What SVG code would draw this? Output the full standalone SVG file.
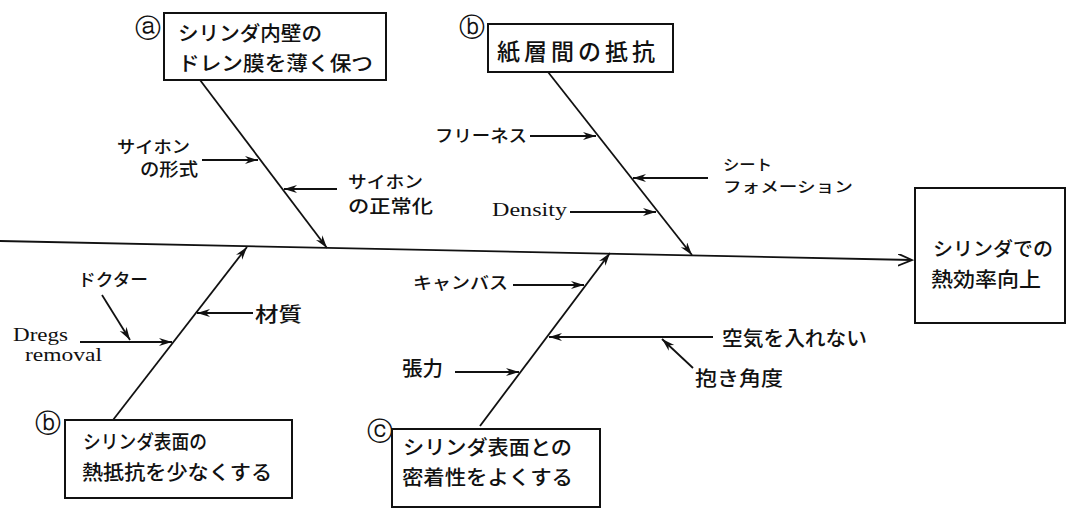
<svg xmlns="http://www.w3.org/2000/svg" width="1067" height="508" viewBox="0 0 1067 508">
<style>
.jp{font-family:"Noto Sans CJK JP","Noto Sans CJK SC",sans-serif;fill:#111;font-weight:500}
.en{font-family:"Liberation Serif",serif;fill:#111}
.circ{font-family:"DejaVu Sans",sans-serif;fill:#111;text-anchor:middle;font-size:26px}
.box{fill:#fff;stroke:#111;stroke-width:2}
.ln{stroke:#111;stroke-width:1.8;fill:none}
.ar{marker-end:url(#ah)}
</style>
<defs>
<marker id="ah" markerUnits="userSpaceOnUse" markerWidth="14" markerHeight="10" refX="13" refY="4" orient="auto">
<path d="M0,0 L13,4 L0,8 L4,4 z" fill="#111"/>
</marker>
<marker id="open" markerUnits="userSpaceOnUse" markerWidth="16" markerHeight="14" refX="14" refY="6" orient="auto">
<path d="M0,0 L14,6 L0,12" fill="none" stroke="#111" stroke-width="1.8"/>
</marker>
</defs>
<rect width="1067" height="508" fill="#fff"/>
<g id="connectors">
<line class="ln" x1="0" y1="241" x2="912" y2="260" marker-end="url(#open)"/>
<line class="ln ar" x1="200" y1="80" x2="327" y2="248"/>
<line class="ln ar" x1="548" y1="72" x2="692" y2="255"/>
<line class="ln ar" x1="113" y1="420" x2="247" y2="247"/>
<line class="ln ar" x1="480" y1="426" x2="610" y2="253"/>
<line class="ln ar" x1="202" y1="160" x2="258" y2="160"/>
<line class="ln ar" x1="337" y1="189" x2="284" y2="189"/>
<line class="ln ar" x1="530" y1="136" x2="596" y2="136"/>
<line class="ln ar" x1="708" y1="178" x2="633" y2="178"/>
<line class="ln ar" x1="570" y1="212" x2="656" y2="212"/>
<line class="ln ar" x1="253" y1="313" x2="197" y2="313"/>
<line class="ln ar" x1="80" y1="342" x2="172" y2="342"/>
<line class="ln ar" x1="102" y1="295" x2="130" y2="340"/>
<line class="ln ar" x1="513" y1="285" x2="584" y2="285"/>
<line class="ln ar" x1="713" y1="337" x2="549" y2="337"/>
<line class="ln ar" x1="693" y1="368" x2="662" y2="339"/>
<line class="ln ar" x1="455" y1="372" x2="519" y2="372"/>
</g>
<g id="node-a">
<text class="circ" x="148" y="37">ⓐ</text>
<rect class="box" x="164" y="13" width="222" height="67"/>
<text class="jp" x="178" y="41" font-size="20" textLength="144" lengthAdjust="spacingAndGlyphs">シリンダ内壁の</text>
<text class="jp" x="178" y="71" font-size="20" textLength="195" lengthAdjust="spacingAndGlyphs">ドレン膜を薄く保つ</text>
</g>
<g id="node-b-top">
<text class="circ" x="472" y="36">ⓑ</text>
<rect class="box" x="488" y="24" width="185" height="48"/>
<text class="jp" x="497" y="60" font-size="23" textLength="158" lengthAdjust="spacing">紙層間の抵抗</text>
</g>
<g id="node-goal">
<rect class="box" x="915" y="188" width="150" height="135"/>
<text class="jp" x="933" y="256" font-size="19" textLength="120" lengthAdjust="spacingAndGlyphs">シリンダでの</text>
<text class="jp" x="931" y="287" font-size="20" textLength="110" lengthAdjust="spacingAndGlyphs">熱効率向上</text>
</g>
<g id="node-b-bottom">
<text class="circ" x="48" y="432">ⓑ</text>
<rect class="box" x="65" y="420" width="227" height="78"/>
<text class="jp" x="83" y="449" font-size="19" textLength="124" lengthAdjust="spacingAndGlyphs">シリンダ表面の</text>
<text class="jp" x="82" y="480" font-size="20" textLength="190" lengthAdjust="spacingAndGlyphs">熱抵抗を少なくする</text>
</g>
<g id="node-c">
<text class="circ" x="380" y="440">ⓒ</text>
<rect class="box" x="392" y="429" width="208" height="78"/>
<text class="jp" x="403" y="455" font-size="20" textLength="169" lengthAdjust="spacingAndGlyphs">シリンダ表面との</text>
<text class="jp" x="402" y="485" font-size="20" textLength="171" lengthAdjust="spacingAndGlyphs">密着性をよくする</text>
</g>
<g id="label-siphon-type">
<text class="jp" x="117" y="153" font-size="17" textLength="73" lengthAdjust="spacingAndGlyphs">サイホン</text>
<text class="jp" x="140" y="176" font-size="18" textLength="58" lengthAdjust="spacingAndGlyphs">の形式</text>
</g>
<g id="label-siphon-norm">
<text class="jp" x="348" y="188" font-size="17" textLength="75" lengthAdjust="spacingAndGlyphs">サイホン</text>
<text class="jp" x="348" y="213" font-size="18" textLength="85" lengthAdjust="spacingAndGlyphs">の正常化</text>
</g>
<g id="label-freeness"><text class="jp" x="435" y="142" font-size="17" textLength="92" lengthAdjust="spacingAndGlyphs">フリーネス</text></g>
<g id="label-sheet">
<text class="jp" x="723" y="170" font-size="15" textLength="49" lengthAdjust="spacingAndGlyphs">シート</text>
<text class="jp" x="723" y="192" font-size="15" textLength="130" lengthAdjust="spacingAndGlyphs">フォメーション</text>
</g>
<g id="label-density"><text class="en" x="492" y="216" font-size="19" textLength="75" lengthAdjust="spacingAndGlyphs">Density</text></g>
<g id="label-doctor"><text class="jp" x="78" y="286" font-size="17" textLength="70" lengthAdjust="spacingAndGlyphs">ドクター</text></g>
<g id="label-material"><text class="jp" x="255" y="322" font-size="20" textLength="47" lengthAdjust="spacingAndGlyphs">材質</text></g>
<g id="label-dregs">
<text class="en" x="13" y="341" font-size="18" textLength="55" lengthAdjust="spacingAndGlyphs">Dregs</text>
<text class="en" x="25" y="361" font-size="18" textLength="77" lengthAdjust="spacingAndGlyphs">removal</text>
</g>
<g id="label-canvas"><text class="jp" x="413" y="289" font-size="17" textLength="95" lengthAdjust="spacingAndGlyphs">キャンバス</text></g>
<g id="label-air"><text class="jp" x="722" y="346" font-size="20" textLength="145" lengthAdjust="spacingAndGlyphs">空気を入れない</text></g>
<g id="label-angle"><text class="jp" x="695" y="386" font-size="20" textLength="88" lengthAdjust="spacingAndGlyphs">抱き角度</text></g>
<g id="label-tension"><text class="jp" x="402" y="376" font-size="20" textLength="41" lengthAdjust="spacingAndGlyphs">張力</text></g>
</svg>
